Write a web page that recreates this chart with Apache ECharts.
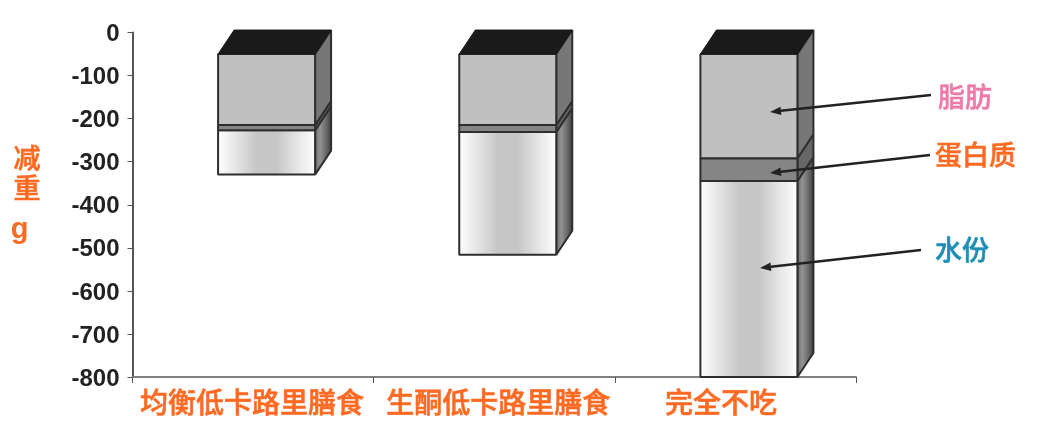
<!DOCTYPE html>
<html><head><meta charset="utf-8">
<style>html,body{margin:0;padding:0;background:#fff}#c{width:1051px;height:434px}</style>
<script src="https://cdn.jsdelivr.net/npm/echarts@6/dist/echarts.min.js"></script>
</head><body><div id="c"></div>
<script>
const categories = ['均衡低卡路里膳食','生酮低卡路里膳食','完全不吃'];
const frontTop = [-50,-50,-50];
const fat = [165,165,242];
const protein = [12,16,53];
const water = [103,285,455];
const notes = [
  {text:'脂肪', color:'#ee7aa8', x:938, y:97, from:[931,95], to:[770,112]},
  {text:'蛋白质', color:'#ff6a22', x:935, y:155, from:[930,155], to:[770,173]},
  {text:'水份', color:'#1b8fb5', x:935, y:250, from:[921,250], to:[760,268]}
];
const ORANGE='#ff6a22', DARK='#2e2e2e';
const DX=16, DY=-24, BAR_W=97;
const CJK='"Noto Sans CJK SC", sans-serif';

function stack(arr, before){
  return categories.map((c,i)=>{
    let s=frontTop[i];
    before.forEach(a=>{s-=a[i];});
    return [i,s,s-arr[i]];
  });
}
function grad(stops){return {type:'linear',x:0,y:0,x2:1,y2:0,colorStops:stops.map((c,i)=>({offset:i/(stops.length-1),color:c}))};}
function faces(front,side,withTop){
  return function(params,api){
    const i=api.value(0);
    const cx=api.coord([i,0])[0];
    const y1=api.coord([i,api.value(1)])[1], y2=api.coord([i,api.value(2)])[1];
    const l=cx+13.5-BAR_W/2, r=l+BAR_W;
    const st={stroke:DARK,lineWidth:2,lineJoin:'bevel'};
    const kids=[
      {type:'polygon',shape:{points:[[r,y1],[r+DX,y1+DY],[r+DX,y2+DY],[r,y2]]},style:Object.assign({fill:side},st)},
      {type:'rect',shape:{x:l,y:y1,width:BAR_W,height:y2-y1},style:Object.assign({fill:front},st)}
    ];
    if(withTop) kids.push({type:'polygon',shape:{points:[[l,y1],[r,y1],[r+DX,y1+DY],[l+DX,y1+DY]]},style:{fill:'#1a1a1a',stroke:'#1a1a1a',lineWidth:1}});
    return {type:'group',children:kids};
  };
}
function series(name,data,front,side,top){
  return {name,type:'custom',data,clip:false,encode:{x:0,y:[1,2]},renderItem:faces(front,side,top)};
}
const waterFront=grad(['#ffffff','#e4e4e4','#c6c6c6','#c6c6c6','#e4e4e4','#ffffff']);
const waterSide=grad(['#666666','#929292','#6a6a6a','#3a3a3a']);

function arrow(n){
  const [x1,y1]=n.from,[x2,y2]=n.to;
  const a=Math.atan2(y1-y2,x1-x2),L=11,W=4.2;
  const bx=x2+L*Math.cos(a),by=y2+L*Math.sin(a);
  const nx=-Math.sin(a)*W,ny=Math.cos(a)*W;
  return [
    {type:'line',z:100,shape:{x1,y1,x2:bx,y2:by},style:{stroke:'#222',lineWidth:2.5}},
    {type:'polygon',z:100,shape:{points:[[x2,y2],[bx+nx,by+ny],[bx-nx,by-ny]]},style:{fill:'#222'}}
  ];
}
const graphic=[];
notes.forEach(n=>{
  graphic.push(...arrow(n));
  graphic.push({type:'text',z:100,x:n.x,y:n.y,style:{text:n.text,fill:n.color,stroke:n.color,lineWidth:0.5,font:'500 27px '+CJK,verticalAlign:'middle'}});
});
const lab={fontSize:28,fontWeight:500,fontFamily:CJK,color:ORANGE,textBorderColor:ORANGE,textBorderWidth:0.6};
const rich={
  a:Object.assign({padding:[0,2,0,0]},lab),
  b:Object.assign({padding:[0,0,0,8]},lab),
  c:Object.assign({padding:[0,29,0,0]},lab)
};
const nameChar={fontSize:27,fontWeight:500,fontFamily:CJK,color:ORANGE,textBorderColor:ORANGE,textBorderWidth:0.6,lineHeight:30};
const chart=echarts.init(document.getElementById('c'),null,{renderer:'canvas'});
chart.setOption({
  animation:false,
  backgroundColor:'#fff',
  grid:{left:132.5,right:195,top:32.5,height:344.5,outerBoundsMode:'none'},
  xAxis:{type:'category',data:categories,position:'bottom',
    axisLine:{onZero:false,lineStyle:{color:'#808080',width:2}},
    axisTick:{show:true,length:6,lineStyle:{color:'#555',width:1}},
    axisLabel:{margin:11,interval:0,hideOverlap:false,rich,
      formatter:(v,i)=>'{'+'abc'[i]+'|'+v+'}'},
    splitLine:{show:false}},
  yAxis:{type:'value',min:-800,max:0,interval:100,
    name:'{z|减}\n{z|重}\n{g|g}',nameLocation:'middle',nameGap:92,nameRotate:0,
    nameTextStyle:{padding:[0,0,10,0],rich:{
      z:nameChar,
      g:{fontSize:29,fontWeight:'bold',fontFamily:'"Liberation Sans"',color:ORANGE,lineHeight:54,padding:[0,12,0,0]}
    }},
    axisLine:{show:true,lineStyle:{color:'#555',width:2}},
    axisTick:{show:true,length:5,lineStyle:{color:'#555',width:1}},
    axisLabel:{margin:13,formatter:v=>'{t|'+v+'}',rich:{t:{color:'#222',fontFamily:'"Liberation Sans"',fontWeight:'bold',fontSize:24,padding:[4,0,0,0]}}},
    splitLine:{show:false}},
  series:[
    series('水份',stack(water,[fat,protein]),waterFront,waterSide,false),
    series('蛋白质',stack(protein,[fat]),'#858585','#666666',false),
    series('脂肪',stack(fat,[]),'#c0c0c0','#777777',true)
  ],
  graphic:{elements:graphic}
});
</script></body></html>
